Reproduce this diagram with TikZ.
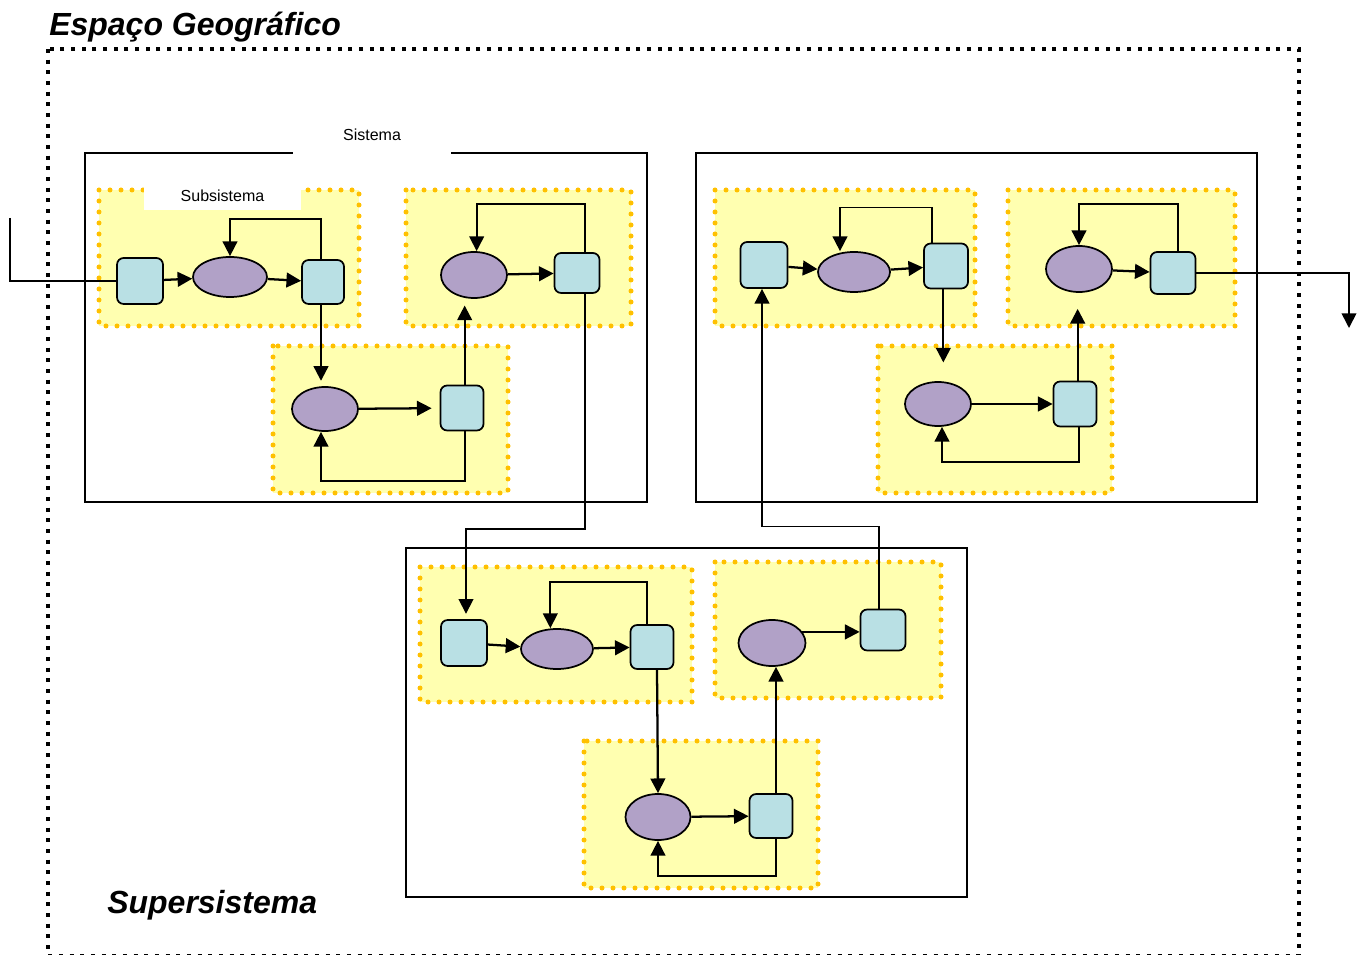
\documentclass[tikz,border=0pt]{standalone}
\usepackage{fontspec}
\setmainfont{Liberation Sans}
\usetikzlibrary{arrows.meta,calc,shapes.geometric}
\definecolor{yel}{RGB}{255,255,176}
\definecolor{dotor}{RGB}{255,192,0}
\definecolor{sqc}{RGB}{185,224,228}
\definecolor{elc}{RGB}{177,161,199}
\begin{document}
\begin{tikzpicture}[x=0.75pt,y=-0.75pt,
  sz/.style 2 args={minimum width=#1*0.75pt, minimum height=#2*0.75pt},
  sq/.style={draw, line width=1.3pt, fill=sqc, rounded corners=5pt, inner sep=0pt},
  el/.style={draw, ellipse, line width=1.3pt, fill=elc, inner sep=0pt},
  subbox/.style={fill=yel, draw=dotor, line width=3.75pt, line cap=round, dash pattern=on 0pt off 8.25pt},
  sysbox/.style={draw, line width=1.4pt},
  frame/.style={draw, line width=3pt, dash pattern=on 3pt off 5pt},
  arr/.style={line width=1.7pt, -{Triangle[length=11pt,width=11pt]}},
  fb/.style={line width=1.3pt, -{Triangle[length=11pt,width=11pt]}},
  ln/.style={line width=1.1pt},
  lbl/.style={fill=white, inner sep=0pt, font=\fontsize{12pt}{14pt}\selectfont},
  big/.style={inner sep=0pt, font=\fontsize{24pt}{28pt}\selectfont\bfseries\itshape},
]
\useasboundingbox (0,0) rectangle (1365,955);
% outer frame
\draw[frame] (48,49) rectangle (1299,955.5);
\node[big, anchor=base west] (title) at (49,36) {Espaço Geográfico};
\node[big, anchor=base west] (super) at (107,913) {Supersistema};

% systems
\draw[sysbox] (85,153) rectangle (647,502);
\draw[sysbox] (696,153) rectangle (1257,502);
\draw[sysbox] (406,548) rectangle (967,897);
\node[lbl, sz={158}{44}] (sistema) at (372,135) {Sistema};

% subsystems
\draw[subbox] (99,190) rectangle (359,326);
\draw[subbox] (406,190) rectangle (631,326);
\draw[subbox] (273,346) rectangle (508,493);
\draw[subbox] (715,190) rectangle (975,326);
\draw[subbox] (1008,190) rectangle (1235,326);
\draw[subbox] (878,346) rectangle (1112,493);
\draw[subbox] (420,567) rectangle (692,702);
\draw[subbox] (715,562) rectangle (941,698);
\draw[subbox] (584,741) rectangle (818,888);
\node[lbl, sz={157}{28}] (subs) at (222.5,196) {Subsistema};

% nodes
\node[sq, sz={46}{46}] (a1) at (140,281) {};
\node[el, sz={74}{40}] (e1) at (230,277) {};
\node[sq, sz={42}{44}] (b1) at (323,282) {};
\node[el, sz={66}{46}] (e2) at (474,275) {};
\node[sq, sz={45}{40}] (b2) at (577,273) {};
\node[el, sz={66}{44}] (e3) at (325,409) {};
\node[sq, sz={43}{45}] (b3) at (462,408) {};

\node[sq, sz={47}{46}] (a5) at (764,265) {};
\node[el, sz={72}{40}] (e5) at (854,272) {};
\node[sq, sz={44}{45}] (b5) at (946,266) {};
\node[el, sz={66}{44}] (e6) at (938,404) {};
\node[sq, sz={43}{45}] (b6) at (1075,404) {};
\node[el, sz={66}{46}] (e7) at (1079,269) {};
\node[sq, sz={45}{42}] (b7) at (1173,273) {};

\node[sq, sz={46}{46}] (a4) at (464,643) {};
\node[el, sz={72}{40}] (e4) at (557,649) {};
\node[sq, sz={43}{44}] (b4) at (652,647) {};
\node[el, sz={67}{46}] (e9) at (772,643) {};
\node[sq, sz={45}{41}] (b9) at (883,630) {};
\node[el, sz={65}{46}] (e8) at (658,817) {};
\node[sq, sz={43}{44}] (b8) at (771,816) {};

\coordinate (in) at (10,218);
\coordinate (out) at (1349,328);

% left system
\draw[ln] (in) |- (a1.west);
\draw[arr] (a1) -- (e1);
\draw[arr] (e1) -- (b1);
\draw[fb] ([xshift=-1.5pt]b1.north) -- ++(0,-40) -| (e1.north);
\draw[arr, shorten >=4pt] ([xshift=-1.5pt]b1.south) -- ([xshift=-1.5pt]b1.south |- e3.north);
\draw[arr, shorten >=6pt] (e3) -- (b3);
\draw[fb] ([xshift=2pt]b3.south) -- ++(0,50) -| ([xshift=-3pt]e3.south);
\draw[arr, shorten >=5pt] ([xshift=2pt]b3.north) -- ([xshift=2pt]b3.north |- e2.south);
\draw[arr] (e2) -- (b2);
\draw[fb] ([xshift=6pt]b2.north) -- ++(0,-48) -| ([xshift=2pt]e2.north);
\draw[fb, shorten >=4pt] ([xshift=6pt]b2.south) -- ++(0,235) -| ([xshift=1.5pt]a4.north);

% bottom system
\draw[arr] (a4) -- (e4);
\draw[arr] (e4) -- (b4);
\draw[fb] ([xshift=-3.75pt]b4.north) -- ++(0,-42) -| ([xshift=-5pt]e4.north);
\draw[arr] ([xshift=3.75pt]b4.south) -- (e8.north);
\draw[arr] (e8) -- (b8);
\draw[fb] ([xshift=3.75pt]b8.south) -- ++(0,37) -| (e8.south);
\draw[arr] ([xshift=3.75pt]b8.north) -- ([xshift=3.75pt]b8.north |- e9.south);
\draw[arr] (e9.20) -- (e9.20 -| b9.west);
\draw[fb] ([xshift=-3pt]b9.north) -- ++(0,-82) -| ([xshift=-1.5pt]a5.south);

% right system
\draw[arr] (a5) -- (e5);
\draw[arr] (e5) -- (b5);
\draw[fb] ([xshift=-10.5pt]b5.north) -- ++(0,-35) -| ([xshift=-10.5pt]e5.north);
\draw[arr, shorten >=14pt] ([xshift=-2pt]b5.south) -- ([xshift=-2pt]b5.south |- e6.north);
\draw[arr] (e6) -- (b6);
\draw[fb] ([xshift=3pt]b6.south) -- ++(0,35) -| ([xshift=3pt]e6.south);
\draw[arr, shorten >=12pt] ([xshift=2pt]b6.north) -- ([xshift=2pt]b6.north |- e7.south);
\draw[arr] (e7) -- (b7);
\draw[fb] ([xshift=3.75pt]b7.north) -- ++(0,-47) -| (e7.north);
\draw[fb] (b7.east) -| (out);
\end{tikzpicture}
\end{document}
